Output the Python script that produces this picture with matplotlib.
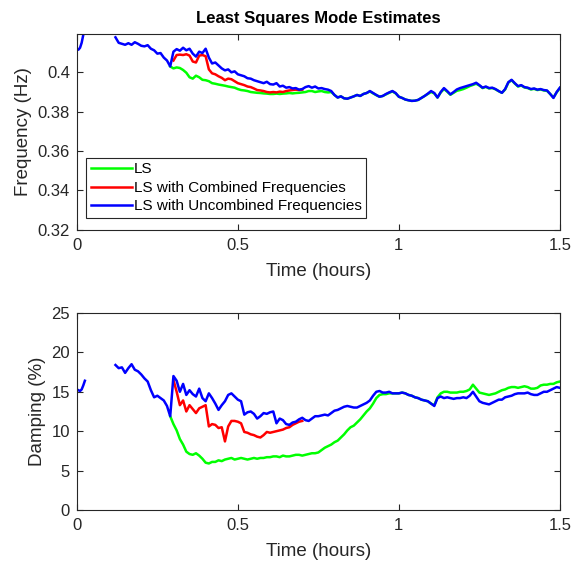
import matplotlib
matplotlib.use("Agg")
import matplotlib.pyplot as plt
import numpy as np

plt.rcParams['font.family'] = ['Liberation Sans', 'DejaVu Sans']

# ---- data (time in hours, sampled every 0.01 h after the start segment) ----
start_t = [0.0, 0.005, 0.01, 0.015, 0.02, 0.025]
blue_freq_start = [0.4118, 0.4115, 0.4125, 0.4150, 0.4190, 0.4230]
blue_damp_start = [15.3, 15.2, 15.1, 15.3, 15.8, 16.4]

blue_t0 = 0.12
blue_freq = [
    0.4178, 0.4150, 0.4145, 0.4140, 0.4148, 0.4140, 0.4153, 0.4145, 0.4135, 0.4132,  # 0.12
    0.4138, 0.4120, 0.4112, 0.4095, 0.4098, 0.4075, 0.4060, 0.4030, 0.4105, 0.4118,  # 0.22
    0.4110, 0.4125, 0.4112, 0.4120, 0.4095, 0.4080, 0.4105, 0.4098, 0.4120, 0.4075,  # 0.32
    0.4045, 0.4050, 0.4035, 0.4020, 0.4010, 0.4015, 0.4000, 0.4005, 0.3990, 0.3985,  # 0.42
    0.3980, 0.3970, 0.3968, 0.3960, 0.3955, 0.3950, 0.3945, 0.3952, 0.3940, 0.3938,  # 0.52
    0.3945, 0.3928, 0.3932, 0.3922, 0.3925, 0.3918, 0.3920, 0.3912, 0.3915, 0.3925,  # 0.62
    0.3930, 0.3922, 0.3928, 0.3918, 0.3920, 0.3915, 0.3912, 0.3905, 0.3885, 0.3872,  # 0.72
    0.3878, 0.3868, 0.3866, 0.3872, 0.3878, 0.3885, 0.3880, 0.3890, 0.3895, 0.3905,  # 0.82
    0.3895, 0.3885, 0.3876, 0.3880, 0.3890, 0.3898, 0.3905, 0.3895, 0.3876, 0.3870,  # 0.92
    0.3862, 0.3858, 0.3855, 0.3856, 0.3860, 0.3870, 0.3880, 0.3892, 0.3905, 0.3895,  # 1.02
    0.3872, 0.3900, 0.3920, 0.3905, 0.3888, 0.3900, 0.3913, 0.3920, 0.3925, 0.3930,  # 1.12
    0.3935, 0.3940, 0.3947, 0.3935, 0.3922, 0.3928, 0.3920, 0.3922, 0.3915, 0.3905,  # 1.22
    0.3896, 0.3915, 0.3950, 0.3962, 0.3945, 0.3930, 0.3935, 0.3925, 0.3922, 0.3915,  # 1.32
    0.3918, 0.3912, 0.3915, 0.3910, 0.3908, 0.3890, 0.3870, 0.3900, 0.3922,          # 1.42
]
blue_damp = [
    18.4, 18.0, 18.1, 17.4, 18.0, 18.5, 17.8, 17.6, 17.2, 16.7,  # 0.12
    16.3, 15.2, 14.3, 14.5, 14.2, 13.9, 13.2, 11.9, 17.0, 16.4,  # 0.22
    15.0, 16.0, 14.6, 15.2, 14.7, 14.4, 15.4, 14.2, 13.8, 14.8,  # 0.32
    14.2, 13.5, 12.7, 13.3, 13.8, 14.6, 14.8, 14.4, 14.0, 13.8,  # 0.42
    12.1, 12.4, 12.5, 12.2, 11.6, 11.9, 12.3, 12.2, 12.4, 12.5,  # 0.52
    11.0, 11.6, 11.4, 10.9, 10.8, 11.1, 11.2, 11.5, 11.7, 11.4,  # 0.62
    11.3, 11.6, 11.9, 11.9, 12.0, 12.1, 12.0, 12.3, 12.6, 12.7,  # 0.72
    12.9, 13.1, 13.2, 13.1, 13.0, 13.0, 13.2, 13.4, 13.6, 13.9,  # 0.82
    14.5, 15.0, 15.1, 14.9, 14.9, 15.0, 14.8, 14.8, 14.8, 14.9,  # 0.92
    14.8, 14.6, 14.5, 14.3, 14.2, 14.0, 13.9, 13.8, 13.5, 13.2,  # 1.02
    14.2, 14.4, 14.2, 14.3, 14.2, 14.1, 14.2, 14.2, 14.3, 14.2,  # 1.12
    14.5, 15.0, 14.4, 13.8, 13.6, 13.5, 13.4, 13.6, 13.8, 14.0,  # 1.22
    14.0, 14.3, 14.4, 14.5, 14.7, 14.8, 14.8, 14.8, 14.9, 14.7,  # 1.32
    14.6, 14.6, 14.8, 15.0, 15.0, 15.2, 15.4, 15.6, 15.5,        # 1.42
]

red_t0 = 0.30
red_freq = [
    0.4060, 0.4088, 0.4090, 0.4088, 0.4092, 0.4085, 0.4055, 0.4050, 0.4085, 0.4088,  # 0.30
    0.4082, 0.4015, 0.3995, 0.3990, 0.3980, 0.3972, 0.3960, 0.3968, 0.3965, 0.3955,  # 0.40
    0.3945, 0.3940, 0.3935, 0.3928, 0.3925, 0.3918, 0.3910, 0.3908, 0.3905, 0.3900,  # 0.50
    0.3898, 0.3900, 0.3898, 0.3902, 0.3900, 0.3905, 0.3908, 0.3910, 0.3912, 0.3910,  # 0.60
    0.3912,                                                                          # 0.70
]
red_damp = [
    16.5, 15.0, 13.3, 13.9, 12.5, 13.3, 12.8, 12.3, 12.9, 13.1,  # 0.30
    13.3, 10.6, 10.9, 10.8, 10.4, 10.5, 8.7, 10.6, 11.3, 11.3,   # 0.40
    11.2, 11.0, 9.9, 9.8, 9.6, 9.5, 9.3, 9.2, 9.5, 9.9,          # 0.50
    9.8, 9.9, 10.0, 10.1, 10.2, 10.4, 10.5, 10.8, 11.0, 11.2,    # 0.60
    11.3,                                                        # 0.70
]

green_t0 = 0.29
green_freq = [
    0.4030, 0.4020, 0.4025, 0.4022, 0.4012, 0.3998, 0.3975, 0.3968, 0.3983, 0.3975,  # 0.29
    0.3962, 0.3960, 0.3955, 0.3945, 0.3942, 0.3938, 0.3935, 0.3932, 0.3928, 0.3925,  # 0.39
    0.3922, 0.3915, 0.3910, 0.3908, 0.3905, 0.3900, 0.3898, 0.3896, 0.3895, 0.3893,  # 0.49
    0.3892, 0.3890, 0.3890, 0.3892, 0.3890, 0.3892, 0.3893, 0.3895, 0.3893, 0.3895,  # 0.59
    0.3896, 0.3898, 0.3900, 0.3905, 0.3905, 0.3900, 0.3903, 0.3905, 0.3900, 0.3898,  # 0.69
    0.3900, 0.3885, 0.3872, 0.3878, 0.3868, 0.3866, 0.3872, 0.3878, 0.3885, 0.3880,  # 0.79
    0.3890, 0.3895, 0.3903, 0.3893, 0.3884, 0.3876, 0.3880, 0.3888, 0.3896, 0.3903,  # 0.89
    0.3893, 0.3876, 0.3870, 0.3862, 0.3858, 0.3855, 0.3856, 0.3860, 0.3870, 0.3880,  # 0.99
    0.3890, 0.3900, 0.3893, 0.3872, 0.3898, 0.3915, 0.3902, 0.3886, 0.3896, 0.3906,  # 1.09
    0.3910, 0.3915, 0.3922, 0.3930, 0.3936, 0.3942, 0.3933, 0.3920, 0.3926, 0.3918,  # 1.19
    0.3920, 0.3914, 0.3904, 0.3896, 0.3913, 0.3948, 0.3960, 0.3943, 0.3928, 0.3933,  # 1.29
    0.3923, 0.3920, 0.3913, 0.3916, 0.3910, 0.3913, 0.3908, 0.3906, 0.3890, 0.3872,  # 1.39
    0.3898, 0.3920,                                                                  # 1.49
]
green_damp = [
    11.9, 10.9, 10.1, 9.0, 8.3, 7.4, 7.1, 7.0, 7.2, 6.9,         # 0.29
    6.5, 6.0, 5.9, 6.1, 6.1, 6.3, 6.2, 6.4, 6.5, 6.6,            # 0.39
    6.4, 6.5, 6.6, 6.5, 6.4, 6.5, 6.6, 6.5, 6.6, 6.6,            # 0.49
    6.7, 6.7, 6.8, 6.8, 6.7, 6.9, 6.8, 6.8, 6.9, 7.0,            # 0.59
    7.0, 6.9, 7.0, 7.1, 7.2, 7.2, 7.3, 7.6, 7.9, 8.1,            # 0.69
    8.3, 8.6, 8.8, 9.2, 9.6, 10.1, 10.5, 10.7, 11.1, 11.5,       # 0.79
    12.0, 12.5, 12.9, 13.5, 14.2, 14.6, 14.7, 14.7, 14.8, 14.8,  # 0.89
    14.8, 14.8, 14.9, 14.8, 14.6, 14.5, 14.3, 14.2, 14.0, 13.9,  # 0.99
    13.8, 13.5, 13.3, 14.3, 14.8, 15.0, 15.0, 14.9, 14.9, 14.9,  # 1.09
    15.0, 15.0, 15.1, 15.3, 15.9, 15.4, 14.9, 14.8, 14.7, 14.6,  # 1.19
    14.7, 14.8, 15.0, 15.2, 15.3, 15.5, 15.6, 15.6, 15.5, 15.6,  # 1.29
    15.7, 15.6, 15.4, 15.4, 15.5, 15.8, 15.9, 15.9, 16.0, 16.0,  # 1.39
    16.2, 16.3,                                                  # 1.49
]

labels = ['LS', 'LS with Combined Frequencies', 'LS with Uncombined Frequencies']
colors = ['#00ff00', '#ff0000', '#0000ff']


def times(t0, vals):
    return t0 + 0.01 * np.arange(len(vals))


def style_axis(ax):
    for s in ax.spines.values():
        s.set_color('#262626')
        s.set_linewidth(0.8)
    ax.tick_params(direction='in', top=True, right=True, length=4,
                   width=0.8, color='#262626', labelcolor='#262626', labelsize=12)
    ax.tick_params(axis='x', pad=6)
    ax.tick_params(axis='y', pad=5)
    ax.set_xlim(0, 1.5)
    ax.set_xticks([0, 0.5, 1, 1.5])
    ax.set_xticklabels(['0', '0.5', '1', '1.5'])
    ax.set_xlabel('Time (hours)', fontsize=13.5, color='#262626', labelpad=7)


fig = plt.figure(figsize=(5.82, 5.66), dpi=100)
ax1 = fig.add_axes([0.132, 0.594, 0.830, 0.346])
ax2 = fig.add_axes([0.132, 0.099, 0.830, 0.348])

lw = 1.8
# frequency
ax1.plot(times(green_t0, green_freq), green_freq, color=colors[0], lw=lw, label=labels[0])
ax1.plot(times(red_t0, red_freq), red_freq, color=colors[1], lw=lw, label=labels[1])
ax1.plot(times(blue_t0, blue_freq), blue_freq, color=colors[2], lw=lw, label=labels[2])
ax1.plot(start_t, blue_freq_start, color=colors[2], lw=lw)
ax1.set_ylim(0.32, 0.4195)
ax1.set_yticks([0.32, 0.34, 0.36, 0.38, 0.40])
ax1.set_yticklabels(['0.32', '0.34', '0.36', '0.38', '0.4'])
ax1.set_ylabel('Frequency (Hz)', fontsize=13.5, color='#262626')
ax1.set_title('Least Squares Mode Estimates', fontsize=12, fontweight='bold', pad=8)
style_axis(ax1)
leg = ax1.legend(loc='lower left', bbox_to_anchor=(0.02, 0.06), fontsize=11,
                 handlelength=2.7, handletextpad=0.1, borderpad=0.3,
                 labelspacing=0.3, borderaxespad=0, fancybox=False, framealpha=1)
leg.get_frame().set_edgecolor('#262626')
leg.get_frame().set_linewidth(0.8)

# damping
ax2.plot(times(green_t0, green_damp), green_damp, color=colors[0], lw=lw)
ax2.plot(times(red_t0, red_damp), red_damp, color=colors[1], lw=lw)
ax2.plot(times(blue_t0, blue_damp), blue_damp, color=colors[2], lw=lw)
ax2.plot(start_t, blue_damp_start, color=colors[2], lw=lw)
ax2.set_ylim(0, 25)
ax2.set_yticks([0, 5, 10, 15, 20, 25])
ax2.set_ylabel('Damping (%)', fontsize=13.5, color='#262626')
style_axis(ax2)

fig.savefig('out.png', dpi=100)
